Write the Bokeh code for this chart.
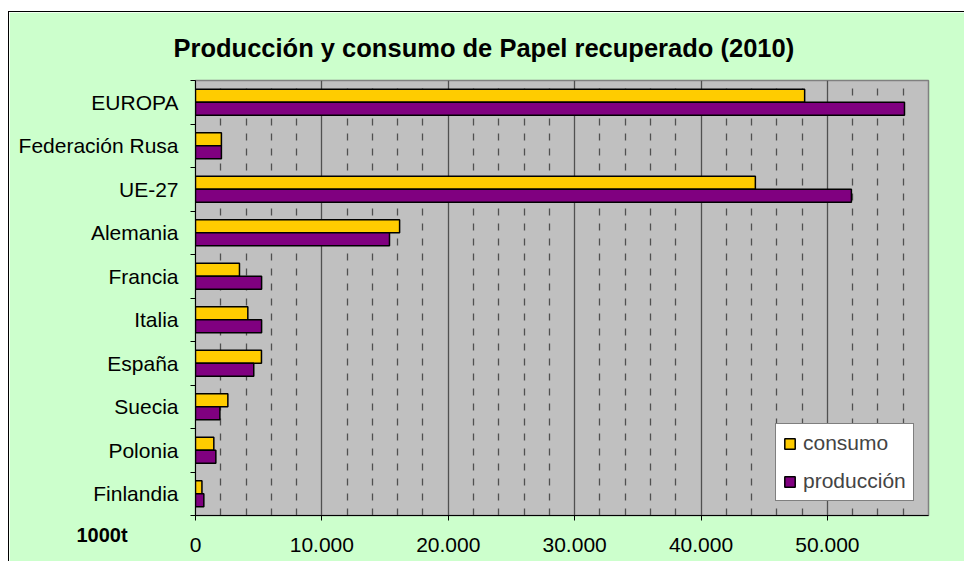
from bokeh.plotting import figure
from bokeh.models import Range1d, FixedTicker, Legend, Title
from bokeh.embed import file_html
from bokeh.resources import INLINE

# ---- data (1000 t) ----
categories = ["EUROPA", "Federación Rusa", "UE-27", "Alemania", "Francia",
              "Italia", "España", "Suecia", "Polonia", "Finlandia"]
consumo = [48200, 2050, 44300, 16150, 3480, 4140, 5220, 2560, 1450, 510]
produccion = [56100, 2050, 51900, 15350, 5230, 5230, 4610, 1930, 1610, 660]
x_ticks = [0, 10000, 20000, 30000, 40000, 50000]
x_tick_labels = ["0", "10.000", "20.000", "30.000", "40.000", "50.000"]
x_minor = [v for v in range(2000, 58000, 2000) if v % 10000 != 0]

title_text = "Producción y consumo de Papel recuperado (2010)"
unit_text = "1000t"

FONT = "Liberation Sans"
GREEN = "#CCFFCC"
GRAY = "#C0C0C0"
YELLOW = "#FFCC00"
PURPLE = "#800080"
GRID = "#505050"

n = len(categories)
ypos = [n - 1 - i for i in range(n)]  # EUROPA on top

p = figure(width=956, height=550, output_backend="svg", toolbar_location=None,
           x_range=Range1d(0, 58000), y_range=Range1d(-0.5, n - 0.5),
           min_border_left=186, min_border_right=37, min_border_top=68,
           min_border_bottom=47)
p.styles = {"margin-top": "11px", "margin-left": "8px",
            "border-left": "1px solid black", "border-top": "1px solid black"}
p.background_fill_color = GRAY
p.border_fill_color = GREEN
p.outline_line_color = "#808080"
p.outline_line_width = 1.5

# title
p.title.text = title_text
p.title.align = "left"
p.title.offset = -22
p.title.text_font = FONT
p.title.text_font_size = "25.5px"
p.title.text_font_style = "bold"
p.title.text_color = "black"
p.title.standoff = 38

r1 = p.hbar(y=[v + 0.15 for v in ypos], right=consumo, left=0, height=0.3,
            fill_color=YELLOW, line_color="black", line_width=1.5)
r2 = p.hbar(y=[v - 0.15 for v in ypos], right=produccion, left=0, height=0.3,
            fill_color=PURPLE, line_color="black", line_width=1.5)

# x axis
xa = p.xaxis[0]
xa.ticker = FixedTicker(ticks=x_ticks, minor_ticks=x_minor)
xa.major_label_overrides = {t: l for t, l in zip(x_ticks, x_tick_labels)}
xa.major_label_text_font = FONT
xa.major_label_text_font_size = "21px"
xa.major_label_text_color = "black"
xa.major_tick_out = 5
xa.major_tick_in = 0
xa.minor_tick_line_color = None
xa.axis_line_color = "black"
xa.major_tick_line_color = "black"
xa.major_label_standoff = 17

# y axis
ya = p.yaxis[0]
ya.ticker = FixedTicker(ticks=ypos, minor_ticks=[v - 0.5 for v in range(n + 1)])
ya.major_label_overrides = {yv: c for yv, c in zip(ypos, categories)}
ya.major_label_text_font = FONT
ya.major_label_text_font_size = "21px"
ya.major_label_text_color = "black"
ya.major_tick_out = 0
ya.major_tick_in = 0
ya.minor_tick_out = 5
ya.minor_tick_in = 0
ya.minor_tick_line_color = "black"
ya.axis_line_color = "black"
ya.major_label_standoff = 12

# grids
p.ygrid.grid_line_color = None
p.xgrid.grid_line_color = GRID
p.xgrid.grid_line_width = 1.3
p.xgrid.minor_grid_line_color = GRID
p.xgrid.minor_grid_line_dash = "7 8"
p.xgrid.minor_grid_line_width = 1.3

# unit label: a title placed in the bottom panel, pulled up beside the x axis labels
unit_title = Title(text=unit_text, align="left", offset=-119, standoff=-61,
                   vertical_align="top", text_font=FONT, text_font_size="20px",
                   text_font_style="bold", text_color="black")
p.add_layout(unit_title, "below")

legend = Legend(items=[("consumo", [r1]), ("producción", [r2])],
                location=(580, 14))
legend.background_fill_color = "white"
legend.background_fill_alpha = 1
legend.border_line_color = "black"
legend.border_line_width = 1
legend.label_text_font = FONT
legend.label_text_font_size = "21px"
legend.glyph_width = 13
legend.glyph_height = 13
legend.label_height = 20
legend.spacing = 14
legend.padding = 7
legend.margin = 0
legend.label_standoff = 7
p.add_layout(legend, "center")

open("out.html", "w").write(file_html(p, INLINE))
